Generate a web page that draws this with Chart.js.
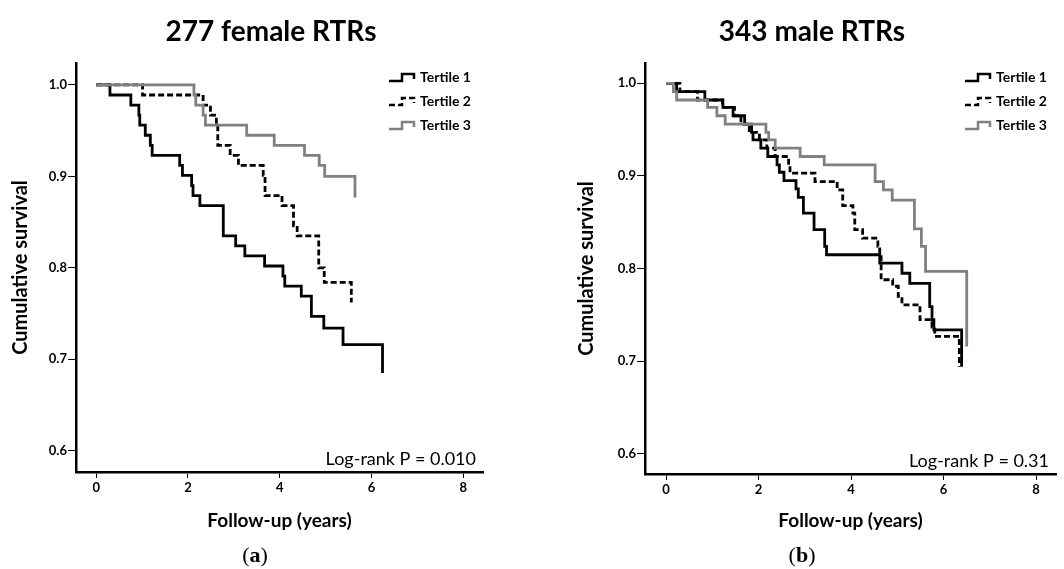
<!DOCTYPE html>
<html>
<head>
<meta charset="utf-8">
<title>Cumulative survival by tertile</title>
<script src="https://cdn.jsdelivr.net/npm/chart.js@4.4.1/dist/chart.umd.min.js"></script>
<style>
  html, body { margin: 0; padding: 0; background: #fff; }
  body { width: 1064px; height: 569px; position: relative; overflow: hidden; }
  .panel { position: absolute; top: 0; height: 569px; }
  #boxA { left: 0; width: 510px; }
  #boxB { left: 532px; width: 532px; }
  .cap { position: absolute; top: 544px; font-family: "Liberation Serif", serif; font-size: 22px; line-height: 1; color: #000; transform: translateX(-50%); }
</style>
</head>
<body>
<div class="panel" id="boxA"><canvas id="chartA"></canvas></div>
<div class="panel" id="boxB"><canvas id="chartB"></canvas></div>
<div class="cap" style="left:255px">(<b>a</b>)</div>
<div class="cap" style="left:802px">(<b>b</b>)</div>
<script>
"use strict";

const FONT = "Lato, 'Open Sans', sans-serif";
const GRAY = "#808080";

// ── 数据：生存曲线（时间 / 累计生存率）──────────────────────
const seriesNames = ["Tertile 1", "Tertile 2", "Tertile 3"];
const xTicks = [0, 2, 4, 6, 8];
const yTicks = [0.6, 0.7, 0.8, 0.9, 1.0];

// 277 female RTRs
const femaleT1Time = [0, 0.30, 0.755, 0.93, 0.95, 1.07, 1.18, 1.22, 1.82, 1.88, 2.08, 2.11, 2.26, 2.77, 3.04, 3.24, 3.67, 4.07, 4.11, 4.47, 4.69, 4.96, 5.38, 6.24];
const femaleT1Surv = [1.0, 0.989, 0.978, 0.967, 0.956, 0.945, 0.934, 0.923, 0.912, 0.901, 0.890, 0.879, 0.868, 0.835, 0.824, 0.813, 0.802, 0.791, 0.780, 0.769, 0.747, 0.734, 0.716, 0.685];
const femaleT2Time = [0, 1.01, 2.33, 2.49, 2.62, 2.65, 2.92, 3.10, 3.64, 3.68, 4.05, 4.30, 4.38, 4.85, 4.97, 5.56];
const femaleT2Surv = [1.0, 0.989, 0.978, 0.967, 0.956, 0.934, 0.923, 0.912, 0.901, 0.879, 0.868, 0.846, 0.835, 0.800, 0.784, 0.762];
const femaleT3Time = [0, 2.13, 2.17, 2.33, 2.38, 3.28, 3.88, 4.54, 4.86, 4.98, 5.64];
const femaleT3Surv = [1.0, 0.989, 0.978, 0.967, 0.956, 0.945, 0.934, 0.923, 0.912, 0.900, 0.877];

// 343 male RTRs
const maleT1Time = [0, 0.23, 0.84, 1.23, 1.45, 1.70, 1.85, 1.88, 2.05, 2.20, 2.40, 2.45, 2.55, 2.81, 2.86, 2.97, 3.20, 3.43, 3.47, 4.62, 5.10, 5.27, 5.70, 5.75, 5.79, 6.39];
const maleT1Surv = [1.0, 0.991, 0.982, 0.974, 0.965, 0.956, 0.947, 0.939, 0.930, 0.921, 0.912, 0.904, 0.895, 0.886, 0.877, 0.860, 0.842, 0.824, 0.815, 0.806, 0.795, 0.784, 0.759, 0.745, 0.734, 0.694];
const maleT2Time = [0, 0.30, 0.68, 1.22, 1.48, 1.62, 1.80, 2.02, 2.18, 2.36, 2.65, 2.68, 3.22, 3.70, 3.82, 4.04, 4.08, 4.25, 4.58, 4.62, 4.65, 4.90, 5.02, 5.10, 5.49, 5.75, 5.81, 6.34];
const maleT2Surv = [1.0, 0.991, 0.982, 0.974, 0.965, 0.956, 0.947, 0.939, 0.930, 0.921, 0.912, 0.903, 0.894, 0.885, 0.868, 0.860, 0.842, 0.833, 0.824, 0.815, 0.788, 0.781, 0.770, 0.761, 0.745, 0.737, 0.727, 0.694];
const maleT3Time = [0, 0.16, 0.23, 0.90, 1.10, 1.28, 2.16, 2.22, 2.36, 2.90, 3.42, 4.52, 4.70, 4.89, 5.37, 5.52, 5.61, 6.50];
const maleT3Surv = [1.0, 0.991, 0.982, 0.974, 0.965, 0.956, 0.947, 0.939, 0.930, 0.921, 0.912, 0.894, 0.885, 0.874, 0.843, 0.824, 0.797, 0.716];

// ── 标题 + 图例 + Log-rank 文字 ──────────────────────────────
const panelText = {
  id: "panelText",
  afterDatasetsDraw(chart, args, opts) {
    const { ctx, chartArea: a } = chart;
    ctx.save();
    ctx.fillStyle = "#000";

    ctx.font = "bold 28px " + FONT;
    ctx.textAlign = "center";
    ctx.textBaseline = "alphabetic";
    ctx.fillText(opts.title, opts.titleX, 41);

    // 图例：阶梯线符号 + 文字
    seriesNames.forEach((name, i) => {
      const ds = chart.data.datasets[i];
      const yc = a.top + 14 + i * 24;
      const x0 = a.left + opts.legendX;
      ctx.strokeStyle = ds.borderColor;
      ctx.lineWidth = 2.5;
      ctx.setLineDash(ds.borderDash || []);
      ctx.beginPath();
      ctx.moveTo(x0, yc + 4);
      ctx.lineTo(x0 + 13, yc + 4);
      ctx.lineTo(x0 + 13, yc - 3);
      ctx.lineTo(x0 + 25, yc - 3);
      ctx.lineTo(x0 + 25, yc + 2);
      ctx.stroke();
      ctx.setLineDash([]);
      ctx.font = "bold 14px " + FONT;
      ctx.textAlign = "left";
      ctx.textBaseline = "middle";
      ctx.fillText(name, x0 + 31, yc);
    });

    ctx.font = "18px " + FONT;
    ctx.textAlign = "right";
    ctx.textBaseline = "alphabetic";
    ctx.fillText(opts.note, a.right - 7, a.bottom - 7);
    ctx.restore();
  },
};

function series(time, surv, color, dash, order) {
  return {
    data: time.map((t, i) => ({ x: t, y: surv[i] })),
    borderColor: color,
    borderDash: dash,
    borderWidth: 2.8,
    pointRadius: 0,
    fill: false,
    stepped: true,
    order,
  };
}

function makeChart(id, p) {
  return new Chart(document.getElementById(id), {
    type: "line",
    data: {
      datasets: [
        series(p.t1, p.s1, "#000", [], 1),
        series(p.t2, p.s2, "#000", [6, 3], 2),
        series(p.t3, p.s3, GRAY, [], 0),
      ],
    },
    options: {
      responsive: true,
      maintainAspectRatio: false,
      animation: false,
      layout: { padding: { left: 0, right: p.padRight, top: 63, bottom: 30 } },
      plugins: {
        legend: { display: false },
        tooltip: { enabled: false },
        title: { display: false },
        panelText: { title: p.title, titleX: p.titleX, note: p.note, legendX: p.legendX },
      },
      scales: {
        x: {
          type: "linear",
          min: p.xMin,
          max: p.xMax,
          afterBuildTicks: (s) => { s.ticks = xTicks.map((v) => ({ value: v })); },
          afterFit: (s) => { s.height = p.xAxisH; },
          ticks: { color: "#000", font: { family: FONT, size: 13, weight: "bold" }, padding: 2, callback: (v) => String(v) },
          grid: { drawOnChartArea: false, drawTicks: true, tickLength: 6, color: "#000", lineWidth: 1 },
          border: { display: true, color: "#000", width: 2.5 },
          title: {
            display: true,
            text: "Follow-up (years)",
            color: "#000",
            font: { family: FONT, size: 19, weight: "bold" },
            padding: { top: 0, bottom: 7 },
          },
        },
        y: {
          type: "linear",
          min: p.yMin,
          max: p.yMax,
          afterBuildTicks: (s) => { s.ticks = yTicks.map((v) => ({ value: v })); },
          afterFit: (s) => { s.width = p.yAxisW; },
          ticks: { color: "#000", font: { family: FONT, size: 13, weight: "bold" }, padding: 1, callback: (v) => v.toFixed(1) },
          grid: { drawOnChartArea: false, drawTicks: true, tickLength: 8, color: "#000", lineWidth: 1 },
          border: { display: true, color: "#000", width: 2.5 },
          title: {
            display: true,
            text: "Cumulative survival",
            color: "#000",
            font: { family: FONT, size: 20, weight: "bold" },
            padding: { top: p.yTitlePad, bottom: 0 },
          },
        },
      },
    },
    plugins: [panelText],
  });
}

makeChart("chartA", {
  title: "277 female RTRs",
  note: "Log-rank P = 0.010",
  t1: femaleT1Time, s1: femaleT1Surv,
  t2: femaleT2Time, s2: femaleT2Surv,
  t3: femaleT3Time, s3: femaleT3Surv,
  xMin: -0.44, xMax: 8.43, yMin: 0.5767, yMax: 1.024,
  padRight: 27, xAxisH: 67, yAxisW: 76, yTitlePad: 9, legendX: 313, titleX: 271,
});

makeChart("chartB", {
  title: "343 male RTRs",
  note: "Log-rank P = 0.31",
  t1: maleT1Time, s1: maleT1Surv,
  t2: maleT2Time, s2: maleT2Surv,
  t3: maleT3Time, s3: maleT3Surv,
  xMin: -0.454, xMax: 8.43, yMin: 0.5784, yMax: 1.0219,
  padRight: 8, xAxisH: 65, yAxisW: 113, yTitlePad: 43, legendX: 320, titleX: 280,
});
</script>
</body>
</html>
